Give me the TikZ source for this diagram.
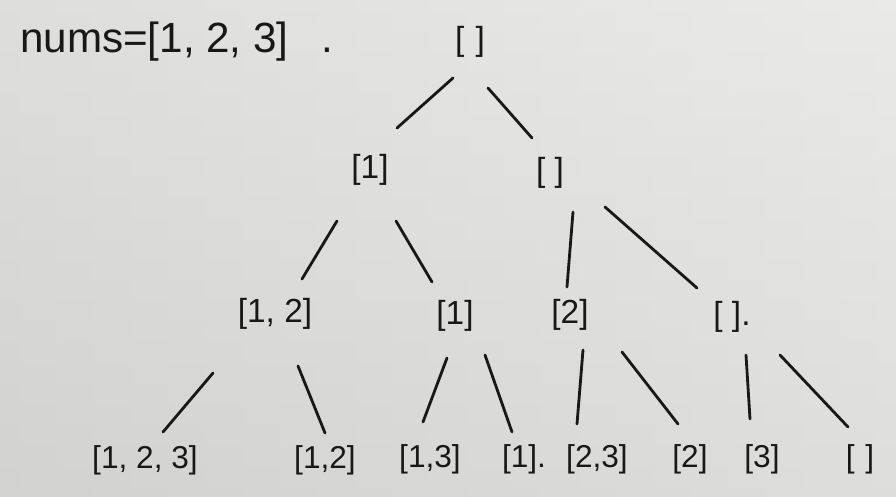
\documentclass[tikz,border=0pt]{standalone}
\usepackage{fontspec}
\setsansfont{Liberation Sans}
\definecolor{ink}{RGB}{24,24,24}
\definecolor{paper}{RGB}{210,210,208}
\definecolor{paperlight}{RGB}{234,234,232}
\tikzset{set/.style={font=\sffamily\fontsize{19}{22}\selectfont,text=ink,inner sep=1pt},
         leafset/.style={set,font=\sffamily\fontsize{18}{21}\selectfont},
         branch/.style={ink,line width=1.6pt,line cap=round}}

\begin{document}
\begin{tikzpicture}
    \useasboundingbox[left color=paper,right color=paperlight] (0,0) rectangle (17.92,9.94);
    \shade[top color=paperlight,bottom color=paper,opacity=0.5] (0,0) rectangle (17.92,9.94);

    \node (title) [set,font=\sffamily\fontsize{24}{28}\selectfont,anchor=west] at (0.36,9.10) {nums=[1, 2, 3]\hspace{0.65cm}.};

    % level 0 and 1
    \node (root) [set] at (9.40,9.10) {[\,\,]};
    \node (a)    [set] at (7.40,6.54) {[1]};
    \node (b)    [set] at (11.00,6.48) {[\ ]};

    % level 2
    \node (aa) [set] at (5.50,3.66)  {[1, 2]};
    \node (ab) [set] at (9.10,3.62)  {[1]};
    \node (ba) [set] at (11.40,3.64) {[2]};
    \node (bb) [set] at (14.64,3.60) {[\ ].};

    % leaves
    \node (aaa) [leafset] at (2.90,0.74)  {[1, 2, 3]};
    \node (aab) [leafset] at (6.50,0.74)  {[1,2]};
    \node (aba) [leafset] at (8.60,0.76)  {[1,3]};
    \node (abb) [leafset] at (10.48,0.76) {[1].};
    \node (baa) [leafset] at (11.94,0.76) {[2,3]};
    \node (bab) [leafset] at (13.80,0.76) {[2]};
    \node (bba) [leafset] at (15.24,0.76) {[3]};
    \node (bbb) [leafset] at (17.20,0.76) {[\,\,]};

    \draw[branch] ([shift={(-0.34,-0.72)}]root.center) -- ([shift={(0.54,0.84)}]a.center);
    \draw[branch] ([shift={(0.36,-0.92)}]root.center) -- ([shift={(-0.36,0.70)}]b.center);
    \draw[branch] ([shift={(-0.66,-1.02)}]a.center) -- ([shift={(0.54,0.70)}]aa.center);
    \draw[branch] ([shift={(0.52,-1.02)}]a.center) -- ([shift={(-0.46,0.68)}]ab.center);
    \draw[branch] ([shift={(0.46,-0.78)}]b.center) -- ([shift={(-0.06,0.56)}]ba.center);
    \draw[branch] ([shift={(1.10,-0.68)}]b.center) -- ([shift={(-0.70,0.58)}]bb.center);
    \draw[branch] ([shift={(-1.24,-1.18)}]aa.center) -- ([shift={(0.36,0.56)}]aaa.center);
    \draw[branch] ([shift={(0.46,-1.04)}]aa.center) -- ([shift={(0,0.54)}]aab.center);
    \draw[branch] ([shift={(-0.16,-0.84)}]ab.center) -- ([shift={(-0.14,0.74)}]aba.center);
    \draw[branch] ([shift={(0.60,-0.78)}]ab.center) -- ([shift={(-0.24,0.54)}]abb.center);
    \draw[branch] ([shift={(0.26,-0.70)}]ba.center) -- ([shift={(-0.40,0.70)}]baa.center);
    \draw[branch] ([shift={(1.04,-0.74)}]ba.center) -- ([shift={(-0.24,0.70)}]bab.center);
    \draw[branch] ([shift={(0.28,-0.76)}]bb.center) -- ([shift={(-0.24,0.80)}]bba.center);
    \draw[branch] ([shift={(0.96,-0.76)}]bb.center) -- ([shift={(-0.24,0.64)}]bbb.center);
\end{tikzpicture}
\end{document}
